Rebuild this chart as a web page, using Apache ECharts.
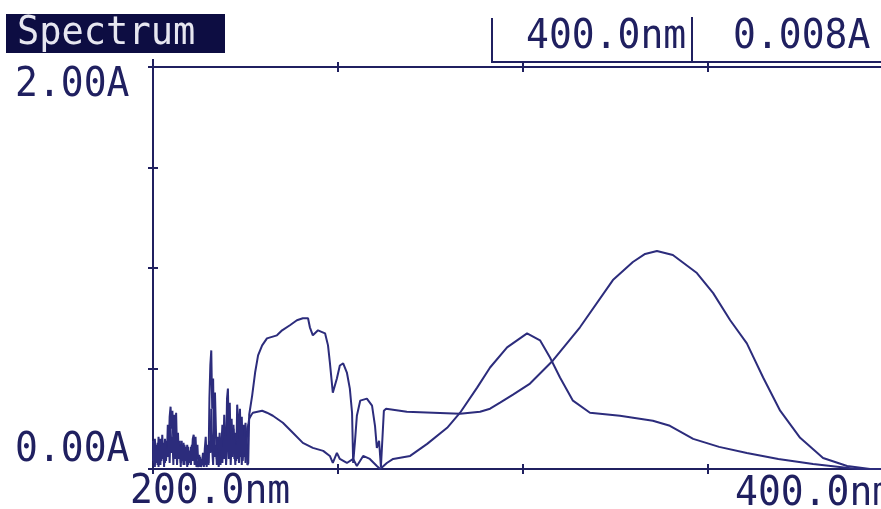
<!DOCTYPE html>
<html>
<head>
<meta charset="utf-8">
<script src="https://cdn.jsdelivr.net/npm/echarts@6/dist/echarts.min.js"></script>
<style>
html,body{margin:0;padding:0;background:#ffffff;}
#chart{width:881px;height:509px;}
</style>
</head>
<body>
<div id="chart"></div>
<script>
// ---- data (wavelength nm, absorbance A) ----
var noiseWl = [200.00,200.25,200.50,200.75,201.00,201.25,201.50,201.75,202.00,202.25,202.50,202.75,203.00,203.25,203.50,203.75,
  204.00,204.25,204.50,204.75,205.00,205.25,205.50,205.75,206.00,206.25,206.50,206.75,207.00,207.25,207.50,207.75,
  208.00,208.25,208.50,208.75,209.00,209.25,209.50,209.75,210.00,210.25,210.50,210.75,211.00,211.25,211.50,211.75,
  212.00,212.25,212.50,212.75,213.00,213.25,213.50,213.75,214.00,214.25,214.50,214.75,215.00,215.25,215.50,215.75,
  216.00,216.25,216.50,216.75,217.00,217.25,217.50,217.75,218.00,218.25,218.50,218.75,219.00,219.25,219.50,219.75,
  220.00,220.25,220.50,220.75,221.00,221.25,221.50,221.75,222.00,222.25,222.50,222.75,223.00,223.25,223.50,223.75,
  224.00,224.25,224.50,224.75,225.00,225.25,225.50,225.75,226.00];

var seriesANoise = [0.14,0.03,0.15,0.06,0.12,0.02,0.16,0.05,
  0.15,0.04,0.17,0.08,0.13,0.03,0.14,0.06,
  0.22,0.10,0.26,0.31,0.20,0.29,0.12,0.27,
  0.10,0.28,0.08,0.18,0.05,0.14,0.03,0.12,
  0.04,0.13,0.02,0.11,0.05,0.12,0.02,0.09,
  0.03,0.11,0.06,0.15,0.17,0.08,0.16,0.05,
  0.12,0.02,0.07,0.01,0.05,0.02,0.08,0.01,
  0.10,0.16,0.03,0.12,0.02,0.35,0.52,0.59,
  0.30,0.45,0.12,0.38,0.20,0.05,0.16,0.03,
  0.18,0.04,0.12,0.22,0.08,0.27,0.10,0.05,
  0.35,0.40,0.15,0.33,0.08,0.25,0.12,0.20,
  0.05,0.18,0.04,0.32,0.25,0.08,0.30,0.12,
  0.02,0.18,0.22,0.06,0.23,0.15,0.02,0.03];
var seriesAWl = [226.0,226.8,227.6,228.4,229.5,230.8,233.5,234.9,237.0,238.9,240.5,241.9,242.4,243.2,244.6,246.5,247.3,247.8,248.6,249.7,250.5,251.4,252.4,253.2,253.8,254.1,254.6,255.1,256.0,257.8,259.2,260.0,260.5,261.1,261.6,262.4,263.0,268.6,275.7,283.0,288.4,291.1,293.8,297.3,301.9,308.1,315.4,324.3,329.7,333.0,336.2,340.5,347.0,351.4,356.0,360.5,364.9,369.5,374.9,381.1,387.6,393.8,400.0];
var seriesAAbs = [0.27,0.365,0.48,0.565,0.615,0.65,0.665,0.69,0.715,0.74,0.75,0.75,0.705,0.665,0.69,0.675,0.615,0.53,0.38,0.45,0.515,0.525,0.48,0.40,0.28,0.03,0.14,0.265,0.34,0.35,0.315,0.215,0.105,0.14,0.01,0.29,0.30,0.285,0.28,0.275,0.285,0.30,0.33,0.37,0.425,0.54,0.705,0.94,1.03,1.07,1.085,1.065,0.975,0.875,0.74,0.625,0.455,0.29,0.155,0.055,0.015,0.0,0.0];

var seriesBNoise = [0.04,0.12,0.01,0.10,0.03,0.13,0.01,0.09,
  0.02,0.14,0.05,0.12,0.01,0.15,0.04,0.10,
  0.06,0.18,0.03,0.21,0.08,0.16,0.02,0.19,
  0.05,0.15,0.02,0.13,0.06,0.11,0.01,0.14,
  0.07,0.02,0.12,0.04,0.10,0.01,0.11,0.03,
  0.09,0.02,0.12,0.04,0.14,0.02,0.10,0.01,
  0.04,0.01,0.03,0.06,0.01,0.04,0.02,0.06,
  0.02,0.08,0.01,0.06,0.03,0.14,0.08,0.30,
  0.10,0.02,0.20,0.06,0.12,0.02,0.08,0.01,
  0.06,0.02,0.09,0.03,0.14,0.05,0.18,0.02,
  0.12,0.26,0.05,0.18,0.02,0.14,0.06,0.22,
  0.10,0.02,0.12,0.05,0.15,0.03,0.20,0.06,
  0.26,0.04,0.12,0.18,0.03,0.10,0.20,0.22,
  0.25];
var seriesBWl = [226.6,227.0,229.5,230.8,232.4,235.1,237.8,240.5,243.2,246.0,247.8,248.6,249.7,250.5,252.4,254.1,255.1,256.8,258.6,260.5,261.4,263.2,264.9,269.5,274.1,279.5,283.0,287.6,291.1,295.7,301.1,304.6,307.3,310.0,313.5,318.1,326.2,335.1,339.7,346.0,353.0,360.5,369.0,378.4,390.3,400.0];
var seriesBAbs = [0.27,0.28,0.29,0.28,0.265,0.23,0.18,0.13,0.105,0.09,0.065,0.03,0.08,0.05,0.03,0.05,0.015,0.065,0.05,0.015,0.0,0.03,0.05,0.065,0.125,0.205,0.28,0.405,0.505,0.605,0.675,0.64,0.555,0.455,0.34,0.28,0.265,0.24,0.215,0.15,0.11,0.08,0.05,0.025,0.0,0.0];

var titleText = 'Spectrum';
var xEndLabels = ['200.0nm', '400.0nm'];
var yEndLabels = ['0.00A', '2.00A'];
var cursorLabels = ['400.0nm', '0.008A'];
var xRange = [200, 400];
var yRange = [0, 2];

// ---- build ----
function pairs(wl, abs) {
  var out = [];
  for (var i = 0; i < abs.length; i++) out.push([wl[i], abs[i]]);
  return out;
}
var dataA = pairs(noiseWl, seriesANoise).concat(pairs(seriesAWl, seriesAAbs));
var dataB = pairs(noiseWl, seriesBNoise).concat(pairs(seriesBWl, seriesBAbs));

var INK = '#202060';
var LINE = '#2c2c7c';
var FONT = '"DejaVu Sans Mono", "Liberation Mono", monospace';

function xAx(pos, showLine, inside) {
  return {
    type: 'value', position: pos, min: xRange[0], max: xRange[1], interval: 50,
    axisLine: { show: showLine, onZero: false, lineStyle: { color: INK, width: 2 } },
    axisTick: { show: true, inside: inside, length: 5, lineStyle: { color: INK, width: 2 } },
    axisLabel: { show: false }, splitLine: { show: false }
  };
}
function yAx(showLine, inside) {
  return {
    type: 'value', position: 'left', min: yRange[0], max: yRange[1], interval: 0.5,
    axisLine: { show: showLine, onZero: false, lineStyle: { color: INK, width: 2 } },
    axisTick: { show: true, inside: inside, length: 5, lineStyle: { color: INK, width: 2 } },
    axisLabel: { show: false }, splitLine: { show: false }
  };
}
function txt(s, x, y, color, size) {
  return {
    type: 'text', x: x, y: y, z: 10, scaleY: 1.07,
    style: { text: s, fill: color || INK, font: (size || 38) + 'px ' + FONT, textVerticalAlign: 'top' }
  };
}

var chart = echarts.init(document.getElementById('chart'), null, { renderer: 'canvas' });
chart.setOption({
  animation: false,
  backgroundColor: '#ffffff',
  grid: { left: 153, width: 740, top: 67, bottom: 40, containLabel: false, outerBoundsMode: 'none' },
  xAxis: [xAx('bottom', true, false), xAx('bottom', false, true), xAx('top', true, false), xAx('top', false, true)],
  yAxis: [yAx(true, false), yAx(false, true)],
  series: [
    { type: 'line', data: dataA, xAxisIndex: 0, yAxisIndex: 0, showSymbol: false, smooth: false,
      lineStyle: { color: LINE, width: 2 }, clip: true },
    { type: 'line', data: dataB, xAxisIndex: 0, yAxisIndex: 0, showSymbol: false, smooth: false,
      lineStyle: { color: LINE, width: 2 }, clip: true }
  ],
  graphic: [
    { type: 'rect', shape: { x: 6, y: 14, width: 219, height: 39 }, style: { fill: '#0d0d42' }, z: 9 },
    txt(titleText, 17, 14, '#e6e6f0', 37),
    txt(yEndLabels[1], 15, 65),
    txt(yEndLabels[0], 15, 430),
    txt(xEndLabels[0], 130, 472),
    txt(xEndLabels[1], 735, 474),
    txt(cursorLabels[0], 526, 17),
    txt(cursorLabels[1], 733, 17),
    { type: 'polyline', shape: { points: [[492, 18], [492, 62], [881, 62]] }, style: { stroke: INK, lineWidth: 2, fill: null }, z: 10 },
    { type: 'line', shape: { x1: 692, y1: 17, x2: 692, y2: 62 }, style: { stroke: INK, lineWidth: 2 }, z: 10 },
    { type: 'line', shape: { x1: 153, y1: 59, x2: 153, y2: 67 }, style: { stroke: INK, lineWidth: 2 }, z: 10 }
  ]
});
</script>
</body>
</html>
